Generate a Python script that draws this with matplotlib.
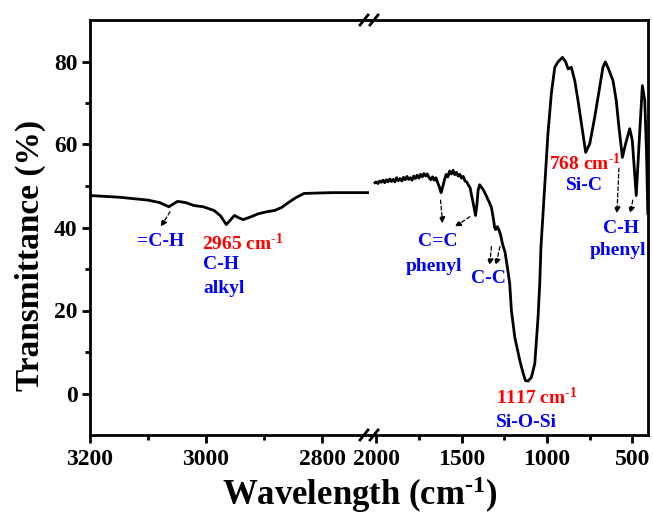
import matplotlib
matplotlib.use("Agg")
import matplotlib.pyplot as plt
from matplotlib.lines import Line2D

# FTIR spectrum, split into two wavenumber windows (cm-1, transmittance %)
wn_high = [3200, 3150, 3100, 3080, 3064, 3049, 3035, 3021, 3005, 2986, 2975,
           2965, 2958, 2951, 2943, 2936, 2924, 2910, 2895, 2882, 2870, 2858,
           2845, 2831, 2810, 2783, 2750, 2720]
t_high = [47.7, 47.3, 46.6, 46.0, 45.0, 46.3, 46.0, 45.3, 45.0, 44.1, 42.8,
          40.7, 41.8, 42.9, 42.3, 41.9, 42.5, 43.3, 43.8, 44.1, 44.8, 46.0,
          47.2, 48.2, 48.3, 48.4, 48.4, 48.4]

wn_low = [2007, 2000, 1990, 1980, 1970, 1960, 1950, 1940, 1930, 1920, 1910,
          1900, 1890, 1880, 1870, 1860, 1850, 1840, 1830, 1820, 1810, 1800,
          1790, 1780, 1770, 1760, 1750, 1740, 1730, 1720, 1710, 1700, 1690,
          1680, 1670, 1660, 1650, 1640, 1630, 1620, 1612, 1600, 1590, 1580,
          1570, 1560, 1550, 1540, 1530, 1520, 1510, 1500, 1490, 1480, 1470,
          1460, 1450, 1440, 1430, 1418, 1410, 1403, 1394, 1385, 1370, 1355,
          1340, 1325, 1315, 1306, 1300, 1290, 1280, 1270, 1260, 1245, 1232,
          1218, 1208, 1188, 1159, 1140, 1126, 1110, 1091, 1071, 1052, 1042,
          1035, 994, 974, 954, 935, 909, 890, 876, 857, 837, 818, 792, 773,
          749, 720, 691, 672, 658, 643, 613, 594, 578, 558, 539, 515, 500,
          477, 457, 441, 427, 417, 409]
t_low = [50.8, 51.0, 50.6, 51.2, 50.9, 51.4, 50.8, 51.5, 51.0, 51.7, 51.1,
         51.6, 51.0, 52.0, 51.3, 51.8, 51.2, 52.1, 51.5, 52.3, 51.6, 52.0,
         51.4, 52.4, 51.8, 52.6, 51.9, 52.8, 52.2, 53.0, 52.4, 52.9, 52.0,
         51.5, 52.2, 51.4, 52.0, 50.8, 49.8, 48.4, 49.5, 51.5, 52.8, 52.2,
         53.6, 52.9, 53.8, 52.7, 53.3, 52.4, 52.8, 51.9, 52.3, 51.2, 51.0,
         50.2, 49.6, 47.5, 45.5, 42.9, 45.5, 49.0, 50.3, 49.8, 48.9, 47.6,
         46.3, 44.8, 42.5, 40.0, 39.5, 40.2, 39.3, 38.0, 36.0, 34.0, 30.5,
         26.5, 20.0, 13.5, 8.0, 5.0, 3.1, 3.0, 3.9, 7.2, 18.3, 26.5,
         35.2, 62.6, 72.3, 78.6, 79.9, 81.0, 79.9, 78.2, 78.6, 75.4, 70.6,
         63.4, 58.1, 60.2, 66.6, 73.8, 78.6, 79.9, 78.6, 75.4, 70.6, 64.1,
         56.9, 60.2, 63.8, 61.0, 47.7, 62.6, 74.2, 70.6, 58.4, 43.4]

W, H = 653, 516
plt.rcParams['font.family'] = 'serif'
plt.rcParams['font.serif'] = ['Liberation Serif', 'DejaVu Serif']
plt.rcParams['font.weight'] = 'bold'
plt.rcParams['mathtext.fontset'] = 'custom'
plt.rcParams['mathtext.rm'] = 'Liberation Serif:bold'
plt.rcParams['mathtext.it'] = 'Liberation Serif:bold'
plt.rcParams['mathtext.bf'] = 'Liberation Serif:bold'

SUP = r'$^{\text{-1}}$'

fig = plt.figure(figsize=(W / 100, H / 100), dpi=100)

x0, xb, x1 = 90, 369, 648
y_bot, y_top = 435, 20
ax1 = fig.add_axes([x0 / W, 1 - y_bot / H, (xb - x0) / W, (y_bot - y_top) / H])
ax2 = fig.add_axes([xb / W, 1 - y_bot / H, (x1 - xb) / W, (y_bot - y_top) / H])

ax1.plot(wn_high, t_high, color='black', lw=2.0, solid_joinstyle='round')
ax2.plot(wn_low, t_low, color='black', lw=2.0, solid_joinstyle='round')

ax1.set_xlim(3200, 2719)
ax2.set_xlim(2042, 408)
for ax in (ax1, ax2):
    ax.set_ylim(-10, 90)
    for s in ax.spines.values():
        s.set_linewidth(2.0)
    ax.tick_params(which='major', direction='out', length=6, width=2,
                   labelsize=17, pad=4)
    ax.tick_params(which='minor', direction='out', length=3.5, width=2)
    for lab in ax.get_xticklabels() + ax.get_yticklabels():
        lab.set_fontweight('bold')

ax1.spines['right'].set_visible(False)
ax2.spines['left'].set_visible(False)
ax1.set_xticks([3200, 3000, 2800])
ax1.set_xticks([3100, 2900], minor=True)
ax2.set_xticks([2000, 1500, 1000, 500])
ax2.set_xticks([1750, 1250, 750], minor=True)
ax1.set_yticks([0, 20, 40, 60, 80])
ax1.set_yticks([10, 30, 50, 70], minor=True)
ax1.tick_params(axis='y', pad=3)
ax2.tick_params(axis='y', which='both', left=False, labelleft=False)

# axis break marks
for yy in (y_top, y_bot):
    for xc in (xb - 5, xb + 5):
        fig.add_artist(Line2D([(xc - 4) / W, (xc + 4) / W],
                              [1 - (yy + 5) / H, 1 - (yy - 5) / H],
                              color='black', lw=2.0))

fig.text(30 / W, 1 - 255 / H, 'Transmittance (%)', rotation=90,
         ha='center', va='center', fontsize=24, fontweight='bold')
fig.text(360 / W, 1 - 495 / H, 'Wavelength (cm' + SUP + ')',
         ha='center', va='center', fontsize=25, fontweight='bold')


def arrow(ax, start, tip):
    ax.annotate('', xy=tip, xytext=start,
                arrowprops=dict(arrowstyle='-|>', color='black', lw=0.9,
                                ls=(0, (3, 2)), mutation_scale=9,
                                shrinkA=0, shrinkB=0))


fs = 14
# high-wavenumber panel
ax1.text(3078, 36.6, '=C-H', color='blue', fontsize=fs, ha='center', va='center')
arrow(ax1, (3062, 43.8), (3078, 40.2))
ax1.text(3007, 36.2, '2965 cm' + SUP, color='red', fontsize=fs, ha='left', va='center')
ax1.text(3005, 31.0, 'C-H', color='blue', fontsize=fs, ha='left', va='center')
ax1.text(3004, 25.4, 'alkyl', color='blue', fontsize=fs, ha='left', va='center')

# low-wavenumber panel
ax2.text(1637, 36.6, 'C=C', color='blue', fontsize=fs, ha='center', va='center')
ax2.text(1662, 30.7, 'phenyl', color='blue', fontsize=fs, ha='center', va='center')
arrow(ax2, (1623, 46.6), (1611, 41.0))
arrow(ax2, (1451, 42.6), (1539, 40.2))
ax2.text(1344, 27.8, 'C-C', color='blue', fontsize=fs, ha='center', va='center')
arrow(ax2, (1325, 35.4), (1335, 30.9))
arrow(ax2, (1275, 35.4), (1299, 30.9))
ax2.text(779, 55.5, '768 cm' + SUP, color='red', fontsize=fs, ha='center', va='center')
ax2.text(779, 50.2, 'Si-C', color='blue', fontsize=fs, ha='center', va='center')
arrow(ax2, (578, 54.3), (590, 43.4))
arrow(ax2, (497, 46.6), (512, 43.4))
ax2.text(564, 39.8, 'C-H', color='blue', fontsize=fs, ha='center', va='center')
ax2.text(586, 34.5, 'phenyl', color='blue', fontsize=fs, ha='center', va='center')
ax2.text(1060, -0.9, '1117 cm' + SUP, color='red', fontsize=fs, ha='center', va='center')
ax2.text(1118, -6.9, 'Si-O-Si', color='blue', fontsize=fs, ha='center', va='center')

fig.savefig('out.png', dpi=100, facecolor='white')
